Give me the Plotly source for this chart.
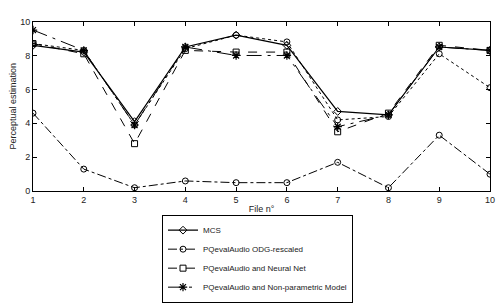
import plotly.graph_objects as go

files = [1, 2, 3, 4, 5, 6, 7, 8, 9, 10]
mos = [8.6, 8.2, 4.1, 8.5, 9.2, 8.6, 4.7, 4.5, 8.5, 8.3]
odg_rescaled = [4.6, 1.3, 0.2, 0.6, 0.5, 0.5, 1.7, 0.2, 3.3, 1.0]
neural_net = [8.7, 8.1, 2.8, 8.3, 8.2, 8.2, 3.5, 4.6, 8.6, 8.3]
nonparam = [9.5, 8.3, 3.9, 8.5, 8.0, 8.0, 3.8, 4.5, 8.5, 8.3]
extra = [8.7, 8.3, 3.9, 8.4, 9.2, 8.8, 4.2, 4.4, 8.1, 6.1]

names = ["MCS", "PQevalAudio ODG-rescaled", "PQevalAudio and Neural Net",
         "PQevalAudio and Non-parametric Model"]

fig = go.Figure()
fig.add_trace(go.Scatter(x=files, y=extra, mode="lines+markers", showlegend=False,
                         line=dict(color="black", width=1, dash="dot"),
                         marker=dict(symbol="circle-open", size=6, color="black", line=dict(width=1))))
fig.add_trace(go.Scatter(x=files, y=mos, name=names[0], mode="lines+markers",
                         line=dict(color="black", width=1.2, dash="solid"),
                         marker=dict(symbol="diamond-open", size=6, color="black", line=dict(width=1))))
fig.add_trace(go.Scatter(x=files, y=odg_rescaled, name=names[1], mode="lines+markers",
                         line=dict(color="black", width=1, dash="dashdot"),
                         marker=dict(symbol="circle-open", size=6, color="black", line=dict(width=1))))
fig.add_trace(go.Scatter(x=files, y=neural_net, name=names[2], mode="lines+markers",
                         line=dict(color="black", width=1, dash="dash"),
                         marker=dict(symbol="square-open", size=6, color="black", line=dict(width=1))))
fig.add_trace(go.Scatter(x=files, y=nonparam, name=names[3], mode="lines+markers",
                         line=dict(color="black", width=1, dash="longdashdot"),
                         marker=dict(symbol="asterisk-open", size=7, color="black", line=dict(width=1.2))))

axis_common = dict(showgrid=False, zeroline=False, showline=True, linecolor="black",
                   linewidth=1, mirror="ticks", ticks="inside", ticklen=4, automargin=False,
                   tickcolor="black", tickfont=dict(size=9, color="#222"))

W, H = 502, 303
fig.update_xaxes(range=[1, 10], tickvals=files, domain=[33 / W, 490 / W],
                 title=dict(text="File n°", font=dict(size=9, color="#222"), standoff=1),
                 **axis_common)
fig.update_yaxes(range=[0, 10], tickvals=[0, 2, 4, 6, 8, 10], domain=[1 - 195 / H, 1 - 22 / H],
                 title=dict(text="Perceptual estimation", font=dict(size=9, color="#222"), standoff=2),
                 **axis_common)

fig.update_layout(
    width=W, height=H,
    margin=dict(l=0, r=0, t=0, b=0, pad=0),
    paper_bgcolor="white", plot_bgcolor="white",
    font=dict(family="Liberation Sans, Arial, sans-serif", size=9, color="#222"),
    legend=dict(x=162 / W, y=1 - 219 / H, xanchor="left", yanchor="top",
                bordercolor="black", borderwidth=1, bgcolor="white",
                font=dict(size=8), tracegroupgap=0, itemwidth=30),
)

fig.write_html("out.html", config={"displayModeBar": False},
               post_script="document.body.style.margin='0';document.body.style.overflow='hidden';")
